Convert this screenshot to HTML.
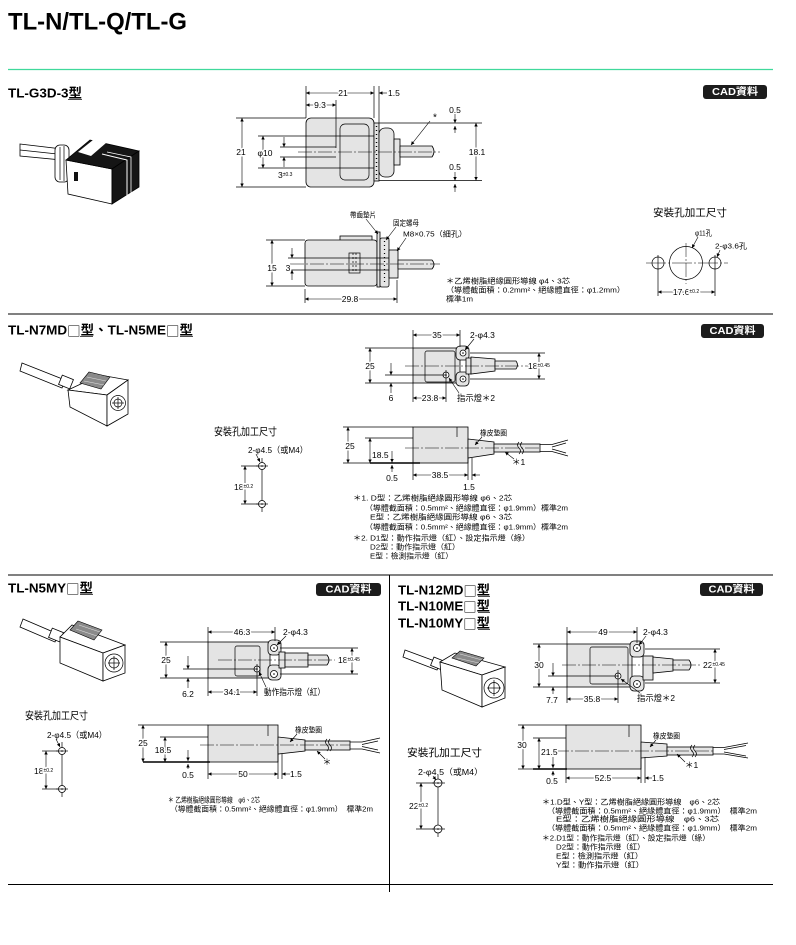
<!DOCTYPE html>
<html><head><meta charset="utf-8">
<style>
html,body{margin:0;padding:0;background:#fff;width:796px;height:945px;overflow:hidden}
svg{display:block}
text{font-family:"Liberation Sans","Noto Sans CJK TC",sans-serif;font-size:8.5px;dominant-baseline:central;fill:#000}
.m{text-anchor:middle}
.h{stroke:#fff;stroke-width:3px;paint-order:stroke;stroke-linejoin:round}
.n{font-size:7.5px}
.s{font-size:5px}
.ti{font-weight:bold;font-size:13px}
.sq{font-family:"Noto Sans CJK TC",sans-serif;font-weight:normal}
.l{stroke:#000;stroke-width:.7;fill:none}
.d{stroke:#000;stroke-width:.6;fill:none;marker-start:url(#a);marker-end:url(#a)}
.e{stroke:#000;stroke-width:.6;fill:none;marker-end:url(#a)}
.c{stroke:#000;stroke-width:.5;fill:none;stroke-dasharray:14 2 2 2}
.b{fill:#e4e4e4;stroke:#000;stroke-width:.8}
.w{fill:#fff;stroke:#000;stroke-width:.8}
.k{fill:#151515;stroke:#000;stroke-width:.8}
.bd{fill:#1c1c1c}
.bt{fill:#fff;font-weight:bold;font-size:10px;text-anchor:middle}
.sec{stroke:#000;stroke-width:1;fill:none}
.pat{fill:#8a8a8a;stroke:#000;stroke-width:.6}
</style></head><body>
<svg width="796" height="945" viewBox="0 0 796 945" xmlns="http://www.w3.org/2000/svg">
<defs><marker id="a" viewBox="0 0 10 10" refX="10" refY="5" markerWidth="5" markerHeight="3.5" markerUnits="userSpaceOnUse" orient="auto-start-reverse"><path d="M0,0L10,5L0,10z"/></marker></defs>

<!-- ===== HEADER / FRAME ===== -->
<text x="8" y="22" style="font-size:24px;font-weight:bold" textLength="179" lengthAdjust="spacingAndGlyphs">TL-N/TL-Q/TL-G</text>
<line x1="8" y1="69.5" x2="773" y2="69.5" stroke="#3fd99b" stroke-width="1.2"/>
<line class="sec" x1="8" y1="314" x2="773" y2="314"/>
<line class="sec" x1="8" y1="575" x2="773" y2="575"/>
<line class="sec" x1="389.5" y1="575" x2="389.5" y2="892"/>
<line class="sec" x1="8" y1="884.5" x2="773" y2="884.5"/>

<!-- titles -->
<text class="ti" x="8" y="93" textLength="74" lengthAdjust="spacingAndGlyphs">TL-G3D-3型</text>
<line class="l" x1="68" y1="99.5" x2="82" y2="99.5"/>
<text class="ti" x="8" y="330" textLength="185" lengthAdjust="spacingAndGlyphs">TL-N7MD<tspan class="sq">□</tspan>型、TL-N5ME<tspan class="sq">□</tspan>型</text>
<line class="l" x1="80" y1="336.5" x2="93" y2="336.5"/><line class="l" x1="180" y1="336.5" x2="193" y2="336.5"/>
<text class="ti" x="8" y="588" textLength="85" lengthAdjust="spacingAndGlyphs">TL-N5MY<tspan class="sq">□</tspan>型</text>
<line class="l" x1="80" y1="594.5" x2="93" y2="594.5"/>
<text class="ti" x="398" y="590" textLength="92" lengthAdjust="spacingAndGlyphs">TL-N12MD<tspan class="sq">□</tspan>型</text>
<text class="ti" x="398" y="606" textLength="92" lengthAdjust="spacingAndGlyphs">TL-N10ME<tspan class="sq">□</tspan>型</text>
<text class="ti" x="398" y="623" textLength="92" lengthAdjust="spacingAndGlyphs">TL-N10MY<tspan class="sq">□</tspan>型</text>
<line class="l" x1="478" y1="596.5" x2="490" y2="596.5"/><line class="l" x1="478" y1="612.5" x2="490" y2="612.5"/><line class="l" x1="478" y1="629.5" x2="490" y2="629.5"/>

<!-- CAD badges -->
<rect class="bd" x="703" y="85" width="64" height="14" rx="3"/><text class="bt" x="735" y="92.3" textLength="46" lengthAdjust="spacingAndGlyphs">CAD資料</text>
<rect class="bd" x="701" y="324" width="63" height="14" rx="3"/><text class="bt" x="732.5" y="331.3" textLength="46" lengthAdjust="spacingAndGlyphs">CAD資料</text>
<rect class="bd" x="316" y="583" width="65" height="13" rx="3"/><text class="bt" x="348.5" y="589.8" textLength="46" lengthAdjust="spacingAndGlyphs">CAD資料</text>
<rect class="bd" x="700" y="583" width="63" height="13" rx="3"/><text class="bt" x="731.5" y="589.8" textLength="46" lengthAdjust="spacingAndGlyphs">CAD資料</text>

<!-- ===== PHOTOS ===== -->
<!-- photo 1 -->
<polygon class="w" points="20,144 62,149 62,160 20,156"/>
<line class="l" x1="20" y1="150" x2="62" y2="154.5"/>
<rect class="w" x="55" y="145" width="14" height="37" rx="5"/>
<line class="l" x1="60" y1="147" x2="60" y2="180"/><line class="l" x1="64" y1="146" x2="64" y2="181"/>
<polygon class="w" points="66,160 112,169 112,204 68,194"/>
<polygon class="k" points="66,160 90,140 139,151 112,169"/>
<polygon fill="#fff" points="78,152 93,140 106,143 91,156"/>
<polygon class="k" points="112,169 139,151 139,187 112,204"/>
<polyline points="102,154 127,160 127,197" fill="none" stroke="#fff" stroke-width="1"/>
<polyline points="107,152 131,157 131,194" fill="none" stroke="#fff" stroke-width=".8"/>
<rect x="74" y="172" width="4" height="9" fill="#111"/>

<!-- photo 2 -->
<polygon class="w" points="22,363 65,380 62,388 20,371"/>
<rect class="w" x="60" y="377" width="12" height="10" transform="rotate(22 66 382)"/>
<polygon class="w" points="68,390 100,375 128,380 107,395"/>
<polygon class="w" points="68,390 107,395 107,426 70,407"/>
<polygon class="w" points="107,395 128,380 128,414 107,426"/>
<polygon class="pat" points="80,383 89,372 110,377 101,389"/>
<path d="M84,381 L104,385 M87,377 L106,381" stroke="#ddd" stroke-width=".6"/>
<circle class="l" cx="118" cy="403" r="7.5"/><circle class="l" cx="118" cy="403" r="4"/>
<line class="l" x1="112" y1="403" x2="124" y2="403"/><line class="l" x1="118" y1="397" x2="118" y2="409"/>

<!-- photo 3 -->
<polygon class="w" points="23,619 58,634 55,642 20,627"/>
<rect class="w" x="50" y="630" width="12" height="10" transform="rotate(22 56 635)"/>
<polygon class="w" points="60,637 72,625 125,645 103,653"/>
<polygon class="w" points="60,637 103,653 103,681 60,663"/>
<polygon class="w" points="103,653 125,645 125,673 103,681"/>
<polygon class="pat" points="70,630 78,621 102,630 94,640"/>
<path d="M76,629 L97,636 M79,625 L100,632" stroke="#ddd" stroke-width=".6"/>
<circle class="l" cx="114" cy="663" r="9"/><circle class="l" cx="114" cy="663" r="5"/>
<line class="l" x1="108" y1="663" x2="120" y2="663"/><line class="l" x1="114" y1="656" x2="114" y2="670"/>

<!-- photo 4 -->
<polygon class="w" points="405,650 440,663 437,670 403,657"/>
<rect class="w" x="432" y="659" width="12" height="9" transform="rotate(22 438 663)"/>
<polygon class="w" points="440,662 455,653 505,667 482,675"/>
<polygon class="w" points="440,662 482,675 482,707 442,690"/>
<polygon class="w" points="482,675 505,667 505,698 482,707"/>
<polygon class="pat" points="452,658 460,651 484,658 476,666"/>
<path d="M457,658 L479,663 M460,654 L482,660" stroke="#ddd" stroke-width=".6"/>
<circle class="l" cx="494" cy="688" r="10"/><circle class="l" cx="494" cy="688" r="5.5"/>
<line class="l" x1="487" y1="688" x2="501" y2="688"/><line class="l" x1="494" y1="680" x2="494" y2="696"/>

<!-- ===== SECTION 1 : TL-G3D-3 ===== -->
<rect class="b" x="306" y="118" width="68" height="69" rx="5"/>
<rect x="340" y="124" width="29" height="56" rx="5" class="l"/>
<rect class="b" x="374" y="123" width="5" height="58"/>
<line x1="376.5" y1="126" x2="376.5" y2="179" stroke="#000" stroke-width="1.4" stroke-dasharray="1 3"/>
<rect class="b" x="379" y="128" width="15" height="49" rx="6"/>
<rect class="b" x="394" y="139" width="6" height="26"/>
<path class="b" d="M400,146 H432 Q436,151.5 432,157 H400 Z"/>
<line class="l" x1="306" y1="86" x2="306" y2="118"/><line class="l" x1="374" y1="86" x2="374" y2="118"/>
<line class="l" x1="379" y1="86" x2="379" y2="123"/><line class="l" x1="336" y1="100" x2="336" y2="148"/>
<line class="l" x1="236" y1="118" x2="306" y2="118"/><line class="l" x1="236" y1="187" x2="306" y2="187"/>
<line class="l" x1="258" y1="136" x2="374" y2="136"/><line class="l" x1="258" y1="168" x2="374" y2="168"/>
<line class="l" x1="280" y1="147" x2="336" y2="147"/><line class="l" x1="280" y1="157" x2="336" y2="157"/>
<line class="c" x1="298" y1="152" x2="440" y2="152"/>
<line class="l" x1="379" y1="123" x2="482" y2="123"/><line class="l" x1="379" y1="180.5" x2="482" y2="180.5"/>
<line class="d" x1="306" y1="93" x2="374" y2="93"/>
<line class="e" x1="387" y1="93" x2="379" y2="93"/>
<line class="d" x1="306" y1="105" x2="336" y2="105"/>
<line class="d" x1="242" y1="118" x2="242" y2="187"/>
<line class="d" x1="263" y1="136" x2="263" y2="168"/>
<line class="e" x1="284" y1="137" x2="284" y2="147"/><line class="e" x1="284" y1="167" x2="284" y2="157"/>
<line class="d" x1="476" y1="123" x2="476" y2="180.5"/>
<line class="e" x1="455" y1="114" x2="455" y2="123"/><line class="e" x1="455" y1="133" x2="455" y2="126"/>
<line class="e" x1="455" y1="172" x2="455" y2="180.5"/><line class="e" x1="455" y1="192" x2="455" y2="184"/>
<line class="e" x1="430" y1="121" x2="411" y2="145"/>
<text class="m h" x="343" y="93">21</text>
<text x="388" y="93">1.5</text>
<text class="m h" x="320" y="105">9.3</text>
<text class="m h" x="241" y="152">21</text>
<text class="m h" x="265" y="153">φ10</text>
<text x="278" y="175">3<tspan class="s">±0.3</tspan></text>
<text class="m h" x="477" y="152">18.1</text>
<text class="m" x="455" y="110">0.5</text>
<text class="m" x="455" y="167">0.5</text>
<text class="m" x="435" y="118" style="font-size:10px">*</text>

<rect class="b" x="340" y="236" width="32" height="5"/>
<rect class="b" x="305" y="240" width="72" height="46" rx="3"/>
<rect class="l" x="349" y="253" width="11" height="20"/>
<line class="l" x1="353" y1="253" x2="353" y2="273" stroke-dasharray="2 2"/><line class="l" x1="356" y1="253" x2="356" y2="273" stroke-dasharray="2 2"/>
<rect class="b" x="377" y="232" width="3" height="55"/>
<rect class="b" x="380" y="238" width="9" height="49" rx="2"/>
<line x1="384.5" y1="241" x2="384.5" y2="285" stroke="#000" stroke-width="1.2" stroke-dasharray="1 3"/>
<rect class="b" x="389" y="250" width="9" height="28"/>
<path class="b" d="M398,260 H432 Q436,264.5 432,269 H398 Z"/>
<line class="l" x1="266" y1="240" x2="305" y2="240"/><line class="l" x1="266" y1="286" x2="305" y2="286"/>
<line class="l" x1="288" y1="258" x2="389" y2="258"/><line class="l" x1="288" y1="270" x2="389" y2="270"/>
<line class="c" x1="290" y1="264" x2="440" y2="264"/>
<line class="d" x1="272" y1="240" x2="272" y2="286"/>
<line class="e" x1="292" y1="248" x2="292" y2="258"/><line class="e" x1="292" y1="280" x2="292" y2="270"/>
<line class="l" x1="305" y1="289" x2="305" y2="303"/><line class="l" x1="397" y1="280" x2="397" y2="303"/>
<line class="d" x1="305" y1="299" x2="397" y2="299"/>
<line class="e" x1="366" y1="219" x2="378" y2="234"/>
<line class="e" x1="396" y1="227" x2="386" y2="240"/>
<line class="e" x1="406" y1="238" x2="397" y2="251"/>
<text class="m h" x="272" y="268">15</text>
<text class="m h" x="288" y="268">3</text>
<text class="m h" x="350" y="299">29.8</text>
<text class="n" x="350" y="215" textLength="26" lengthAdjust="spacingAndGlyphs">帶齒墊片</text>
<text class="n" x="393" y="223" textLength="26" lengthAdjust="spacingAndGlyphs">固定螺母</text>
<text class="n" x="403" y="234" textLength="64" lengthAdjust="spacingAndGlyphs">M8×0.75（細孔）</text>
<text class="n" x="446" y="281" textLength="124" lengthAdjust="spacingAndGlyphs">＊乙烯樹脂絕緣圓形導線 φ4、3芯</text>
<text class="n" x="446" y="290" textLength="179" lengthAdjust="spacingAndGlyphs">（導體截面積：0.2mm²、絕緣體直徑：φ1.2mm）</text>
<text class="n" x="446" y="299" textLength="27" lengthAdjust="spacingAndGlyphs">標準1m</text>

<text x="653" y="213" style="font-size:10.5px" textLength="74" lengthAdjust="spacingAndGlyphs">安裝孔加工尺寸</text>
<circle class="l" cx="686" cy="263" r="16.5"/>
<circle class="l" cx="658" cy="263" r="6"/><circle class="l" cx="715" cy="263" r="6"/>
<line class="c" x1="646" y1="263" x2="728" y2="263" style="stroke-dasharray:20 2 2 2"/>
<line class="c" x1="686" y1="243" x2="686" y2="284"/>
<line class="l" x1="658" y1="255" x2="658" y2="296"/><line class="l" x1="715" y1="255" x2="715" y2="296"/>
<line class="d" x1="658" y1="292" x2="715" y2="292"/>
<line class="e" x1="698" y1="237" x2="692" y2="248"/>
<line class="e" x1="720" y1="250" x2="717" y2="257"/>
<text class="m h" x="686" y="292">17.6<tspan class="s">±0.2</tspan></text>
<text class="n" x="695" y="233" textLength="17" lengthAdjust="spacingAndGlyphs">φ11孔</text>
<text class="n" x="715" y="246" textLength="32" lengthAdjust="spacingAndGlyphs">2-φ3.6孔</text>

<!-- ===== SECTION 2 : TL-N7MD ===== -->
<rect class="b" x="413" y="348" width="47" height="35"/>
<rect class="b" x="456" y="346" width="13" height="14" rx="4"/>
<rect class="b" x="456" y="372" width="13" height="14" rx="4"/>
<rect class="b" x="466" y="358" width="5" height="16"/>
<polygon class="b" points="471,357 495,359 495,371 471,374"/>
<path class="b" d="M495,361 H516 Q519,365 516,369 H495 Z"/>
<rect class="l" x="425" y="351" width="30" height="31" rx="2"/>
<circle class="w" cx="463" cy="353" r="3"/><circle cx="463" cy="353" r=".8"/>
<circle class="w" cx="463" cy="379" r="3"/><circle cx="463" cy="379" r=".8"/>
<circle class="w" cx="446" cy="375" r="3"/><circle cx="446" cy="375" r=".8"/>
<line class="c" x1="405" y1="366" x2="530" y2="366"/>
<line class="l" x1="385" y1="375" x2="446" y2="375"/>
<line class="l" x1="413" y1="330" x2="413" y2="348"/><line class="l" x1="460" y1="330" x2="460" y2="347"/>
<line class="d" x1="413" y1="335" x2="460" y2="335"/>
<line class="l" x1="365" y1="348" x2="413" y2="348"/><line class="l" x1="365" y1="383" x2="413" y2="383"/>
<line class="d" x1="370" y1="348" x2="370" y2="383"/>
<line class="e" x1="391" y1="363" x2="391" y2="375"/><line class="e" x1="391" y1="393" x2="391" y2="383"/>
<line class="l" x1="413" y1="383" x2="413" y2="402"/><line class="l" x1="446" y1="370" x2="446" y2="402"/>
<line class="d" x1="413" y1="398" x2="446" y2="398"/>
<line class="e" x1="474" y1="339" x2="465" y2="350"/>
<line class="e" x1="459" y1="393" x2="449" y2="378"/>
<line class="l" x1="470" y1="353" x2="545" y2="353"/><line class="l" x1="470" y1="379" x2="545" y2="379"/>
<line class="d" x1="539" y1="353" x2="539" y2="379"/>
<text class="m h" x="437" y="335">35</text>
<text x="470" y="335">2-φ4.3</text>
<text class="m h" x="370" y="366">25</text>
<text class="m" x="391" y="398">6</text>
<text class="m h" x="430" y="398">23.8</text>
<text x="457" y="398" textLength="38" lengthAdjust="spacingAndGlyphs">指示燈＊2</text>
<text class="h" x="528" y="366">18<tspan class="s">±0.45</tspan></text>
<rect class="b" x="413" y="427" width="55" height="36"/>
<line class="l" x1="457" y1="427" x2="457" y2="437"/>
<polygon class="b" points="468,439 494,442 494,454 468,458"/>
<rect class="b" x="494" y="444" width="46" height="8"/>
<path class="l" d="M519,442 q-3,3 0,6 q3,3 0,6 M522,442 q-3,3 0,6 q3,3 0,6"/>
<path class="l" d="M540,444.5 L552,444.5 L568,440 M540,451.5 L552,451.5 L568,456 M552,447 L566,443 M552,449 L566,453"/>
<line class="c" x1="405" y1="448" x2="540" y2="448"/>
<line x1="370" y1="463" x2="420" y2="463" stroke="#000" stroke-width="1.4"/>
<line class="l" x1="343" y1="427" x2="413" y2="427"/>
<line class="l" x1="343" y1="463" x2="370" y2="463"/>
<line class="d" x1="348" y1="427" x2="348" y2="463"/>
<line class="l" x1="365" y1="438" x2="413" y2="438"/>
<line class="d" x1="370" y1="438" x2="370" y2="463"/>
<line class="e" x1="392" y1="451" x2="392" y2="462.5"/><line class="e" x1="392" y1="472" x2="392" y2="465"/>
<line class="l" x1="413" y1="463" x2="413" y2="480"/><line class="l" x1="468" y1="458" x2="468" y2="480"/><line class="l" x1="472" y1="458" x2="472" y2="480"/>
<line class="d" x1="413" y1="475" x2="468" y2="475"/>
<line class="e" x1="480" y1="475" x2="472" y2="475"/>
<line class="e" x1="482" y1="437" x2="475" y2="445"/>
<line class="e" x1="514" y1="459" x2="505" y2="452"/>
<text class="m h" x="350" y="446">25</text>
<text class="h" x="372" y="455">18.5</text>
<text class="m" x="392" y="478">0.5</text>
<text class="m h" x="440" y="475">38.5</text>
<text class="m" x="469" y="487">1.5</text>
<text class="n" x="480" y="433" textLength="27" lengthAdjust="spacingAndGlyphs">橡皮墊圈</text>
<text x="512" y="462">＊1</text>
<text x="214" y="432" style="font-size:10.5px" textLength="63" lengthAdjust="spacingAndGlyphs">安裝孔加工尺寸</text>
<text x="248" y="450" textLength="60" lengthAdjust="spacingAndGlyphs">2-φ4.5（或M4）</text>
<line class="l" x1="262" y1="458" x2="262" y2="512"/>
<circle class="w" cx="262" cy="466" r="3.5"/><circle cx="262" cy="466" r=".8"/>
<circle class="w" cx="262" cy="504" r="3.5"/><circle cx="262" cy="504" r=".8"/>
<line class="l" x1="256" y1="466" x2="268" y2="466"/><line class="l" x1="256" y1="504" x2="268" y2="504"/>
<line class="l" x1="241" y1="466" x2="258" y2="466"/><line class="l" x1="241" y1="504" x2="258" y2="504"/>
<line class="d" x1="245" y1="466" x2="245" y2="504"/>
<line class="e" x1="256" y1="454" x2="260" y2="462"/>
<text class="h" x="234" y="487">18<tspan class="s">±0.2</tspan></text>
<text class="n" x="353" y="498" textLength="159" lengthAdjust="spacingAndGlyphs">＊1. D型：乙烯樹脂絕緣圓形導線 φ6、2芯</text>
<text class="n" x="365" y="508" textLength="203" lengthAdjust="spacingAndGlyphs">（導體截面積：0.5mm²、絕緣體直徑：φ1.9mm）標準2m</text>
<text class="n" x="370" y="517" textLength="142" lengthAdjust="spacingAndGlyphs">E型：乙烯樹脂絕緣圓形導線 φ6、3芯</text>
<text class="n" x="365" y="527" textLength="203" lengthAdjust="spacingAndGlyphs">（導體截面積：0.5mm²、絕緣體直徑：φ1.9mm）標準2m</text>
<text class="n" x="353" y="538" textLength="177" lengthAdjust="spacingAndGlyphs">＊2. D1型：動作指示燈（紅）、設定指示燈（綠）</text>
<text class="n" x="370" y="547" textLength="90" lengthAdjust="spacingAndGlyphs">D2型：動作指示燈（紅）</text>
<text class="n" x="370" y="556" textLength="83" lengthAdjust="spacingAndGlyphs">E型：檢測指示燈（紅）</text>

<!-- ===== SECTION 3 : TL-N5MY ===== -->
<rect class="b" x="208" y="642" width="62" height="36"/>
<rect class="b" x="268" y="640" width="13" height="15" rx="4"/>
<rect class="b" x="268" y="665" width="13" height="15" rx="4"/>
<rect class="b" x="279" y="652" width="6" height="16"/>
<rect class="b" x="285" y="653" width="23" height="14"/>
<path class="b" d="M308,655 H327 Q331,660 327,665 H308 Z"/>
<rect class="l" x="235" y="646" width="25" height="30" rx="2"/>
<circle class="w" cx="274" cy="648" r="3.5"/><circle cx="274" cy="648" r=".8"/>
<circle class="w" cx="274" cy="674" r="3.5"/><circle cx="274" cy="674" r=".8"/>
<circle class="w" cx="257" cy="669" r="3"/><circle cx="257" cy="669" r=".8"/>
<line class="c" x1="218" y1="660" x2="335" y2="660"/>
<line class="l" x1="183" y1="669" x2="257" y2="669"/>
<line class="l" x1="208" y1="627" x2="208" y2="642"/><line class="l" x1="275" y1="627" x2="275" y2="641"/>
<line class="d" x1="208" y1="632" x2="275" y2="632"/>
<line class="l" x1="160" y1="642" x2="208" y2="642"/><line class="l" x1="160" y1="678" x2="208" y2="678"/>
<line class="d" x1="166" y1="642" x2="166" y2="678"/>
<line class="e" x1="188" y1="656" x2="188" y2="669"/><line class="e" x1="188" y1="688" x2="188" y2="678"/>
<line class="l" x1="208" y1="678" x2="208" y2="696"/><line class="l" x1="257" y1="664" x2="257" y2="696"/>
<line class="d" x1="208" y1="692" x2="257" y2="692"/>
<line class="e" x1="286" y1="636" x2="277" y2="645"/>
<line class="e" x1="266" y1="687" x2="259" y2="672"/>
<line class="l" x1="280" y1="648" x2="358" y2="648"/><line class="l" x1="280" y1="674" x2="358" y2="674"/>
<line class="d" x1="352" y1="648" x2="352" y2="674"/>
<text class="m h" x="242" y="632">46.3</text>
<text x="283" y="632">2-φ4.3</text>
<text class="m h" x="166" y="660">25</text>
<text class="m" x="188" y="694">6.2</text>
<text class="m h" x="232" y="692">34.1</text>
<text x="264" y="692" textLength="61" lengthAdjust="spacingAndGlyphs">動作指示燈（紅）</text>
<text class="h" x="338" y="660">18<tspan class="s">±0.45</tspan></text>
<rect class="b" x="208" y="725" width="70" height="37"/>
<line class="l" x1="268" y1="725" x2="268" y2="736"/>
<polygon class="b" points="278,737 305,740 305,751 278,754"/>
<rect class="b" x="305" y="741" width="45" height="9"/>
<path class="l" d="M327,739 q-3,3 0,6 q3,3 0,6 M330,739 q-3,3 0,6 q3,3 0,6"/>
<path class="l" d="M350,742 L362,742 L380,738 M350,749 L362,749 L380,753 M362,744.5 L378,741 M362,746.5 L378,750"/>
<line class="c" x1="200" y1="745" x2="350" y2="745"/>
<line x1="143" y1="762" x2="210" y2="762" stroke="#000" stroke-width="1.4"/>
<line class="l" x1="138" y1="725" x2="208" y2="725"/>
<line class="d" x1="143" y1="725" x2="143" y2="762"/>
<line class="l" x1="160" y1="737" x2="208" y2="737"/>
<line class="d" x1="165" y1="737" x2="165" y2="762"/>
<line class="e" x1="188" y1="750" x2="188" y2="761"/><line class="e" x1="188" y1="769" x2="188" y2="764"/>
<line class="l" x1="208" y1="762" x2="208" y2="779"/><line class="l" x1="278" y1="754" x2="278" y2="779"/><line class="l" x1="282" y1="754" x2="282" y2="779"/>
<line class="d" x1="208" y1="774" x2="278" y2="774"/>
<line class="e" x1="290" y1="774" x2="282" y2="774"/>
<line class="e" x1="297" y1="734" x2="290" y2="742"/>
<line class="e" x1="325" y1="759" x2="317" y2="751"/>
<text class="m h" x="143" y="743">25</text>
<text class="m h" x="163" y="750">18.5</text>
<text class="m" x="188" y="775">0.5</text>
<text class="m h" x="243" y="774">50</text>
<text x="290" y="774">1.5</text>
<text class="n" x="295" y="730" textLength="27" lengthAdjust="spacingAndGlyphs">橡皮墊圈</text>
<text class="m" x="327" y="762">＊</text>
<text class="n" x="168" y="800" textLength="92" lengthAdjust="spacingAndGlyphs">＊ 乙烯樹脂絕緣圓形導線　φ6、2芯</text>
<text class="n" x="170" y="809" textLength="203" lengthAdjust="spacingAndGlyphs">（導體截面積：0.5mm²、絕緣體直徑：φ1.9mm）　標準2m</text>
<text x="25" y="716" style="font-size:10.5px" textLength="63" lengthAdjust="spacingAndGlyphs">安裝孔加工尺寸</text>
<text x="47" y="735" textLength="60" lengthAdjust="spacingAndGlyphs">2-φ4.5（或M4）</text>
<line class="l" x1="62" y1="742" x2="62" y2="797"/>
<circle class="w" cx="62" cy="751" r="3.5"/><circle cx="62" cy="751" r=".8"/>
<circle class="w" cx="62" cy="789" r="3.5"/><circle cx="62" cy="789" r=".8"/>
<line class="l" x1="56" y1="751" x2="68" y2="751"/><line class="l" x1="56" y1="789" x2="68" y2="789"/>
<line class="l" x1="42" y1="751" x2="58" y2="751"/><line class="l" x1="42" y1="789" x2="58" y2="789"/>
<line class="d" x1="46" y1="751" x2="46" y2="789"/>
<line class="e" x1="56" y1="739" x2="60" y2="747"/>
<text class="h" x="34" y="771">18<tspan class="s">±0.2</tspan></text>

<!-- ===== SECTION 4 : TL-N12MD ===== -->
<rect class="b" x="567" y="644" width="65" height="43"/>
<rect class="b" x="630" y="641" width="14" height="16" rx="4"/>
<rect class="b" x="630" y="676" width="14" height="15" rx="4"/>
<rect class="b" x="643" y="656" width="10" height="24"/>
<polygon class="b" points="653,657 673,659 673,671 653,673"/>
<path class="b" d="M673,660 H689 Q693,665 689,670 H673 Z"/>
<rect class="l" x="590" y="647" width="38" height="37" rx="2"/>
<circle class="w" cx="637" cy="648" r="3.5"/><circle cx="637" cy="648" r=".8"/>
<circle class="w" cx="637" cy="684" r="3.5"/><circle cx="637" cy="684" r=".8"/>
<circle class="w" cx="618" cy="676" r="3"/><circle cx="618" cy="676" r=".8"/>
<line class="c" x1="562" y1="665" x2="700" y2="665"/>
<line class="l" x1="548" y1="676" x2="618" y2="676"/>
<line class="l" x1="567" y1="627" x2="567" y2="644"/><line class="l" x1="637" y1="627" x2="637" y2="643"/>
<line class="d" x1="567" y1="632" x2="637" y2="632"/>
<line class="l" x1="533" y1="644" x2="567" y2="644"/><line class="l" x1="533" y1="687" x2="567" y2="687"/>
<line class="d" x1="539" y1="644" x2="539" y2="687"/>
<line class="e" x1="553" y1="663" x2="553" y2="676"/><line class="e" x1="553" y1="694" x2="553" y2="687"/>
<line class="l" x1="567" y1="687" x2="567" y2="703"/><line class="l" x1="618" y1="670" x2="618" y2="703"/>
<line class="d" x1="567" y1="699" x2="618" y2="699"/>
<line class="e" x1="646" y1="636" x2="639" y2="645"/>
<line class="e" x1="640" y1="693" x2="621" y2="679"/>
<line class="l" x1="645" y1="649" x2="720" y2="649"/><line class="l" x1="645" y1="683" x2="720" y2="683"/>
<line class="d" x1="715" y1="649" x2="715" y2="683"/>
<text class="m h" x="603" y="632">49</text>
<text x="643" y="632">2-φ4.3</text>
<text class="m h" x="539" y="665">30</text>
<text class="m" x="552" y="700">7.7</text>
<text class="m h" x="592" y="699">35.8</text>
<text x="637" y="698" textLength="38" lengthAdjust="spacingAndGlyphs">指示燈＊2</text>
<text class="h" x="703" y="665">22<tspan class="s">±0.45</tspan></text>
<rect class="b" x="566" y="725" width="75" height="44"/>
<line class="l" x1="629" y1="725" x2="629" y2="737"/>
<polygon class="b" points="641,742 667,744 667,756 641,758"/>
<rect class="b" x="667" y="747" width="46" height="8"/>
<path class="l" d="M692,745 q-3,3 0,6 q3,3 0,6 M695,745 q-3,3 0,6 q3,3 0,6"/>
<path class="l" d="M713,747.5 L724,747.5 L748,743 M713,754 L724,754 L748,758 M724,749.5 L746,745.5 M724,752 L746,756"/>
<line class="c" x1="555" y1="751" x2="713" y2="751"/>
<line x1="533" y1="769" x2="567" y2="769" stroke="#000" stroke-width="1.4"/>
<line class="l" x1="518" y1="725" x2="566" y2="725"/>
<line class="l" x1="518" y1="769" x2="533" y2="769"/>
<line class="d" x1="523" y1="725" x2="523" y2="769"/>
<line class="l" x1="533" y1="738" x2="566" y2="738"/>
<line class="d" x1="539" y1="738" x2="539" y2="769"/>
<line class="e" x1="553" y1="757" x2="553" y2="768"/><line class="e" x1="553" y1="776" x2="553" y2="771"/>
<line class="l" x1="566" y1="769" x2="566" y2="783"/><line class="l" x1="641" y1="758" x2="641" y2="783"/><line class="l" x1="645" y1="757" x2="645" y2="783"/>
<line class="d" x1="566" y1="778" x2="641" y2="778"/>
<line class="e" x1="652" y1="778" x2="645" y2="778"/>
<line class="e" x1="656" y1="740" x2="650" y2="747"/>
<line class="e" x1="685" y1="762" x2="677" y2="754"/>
<text class="m h" x="522" y="745">30</text>
<text class="h" x="541" y="752">21.5</text>
<text class="m" x="552" y="781">0.5</text>
<text class="m h" x="603" y="778">52.5</text>
<text x="652" y="778">1.5</text>
<text class="n" x="653" y="736" textLength="27" lengthAdjust="spacingAndGlyphs">橡皮墊圈</text>
<text x="685" y="765">＊1</text>
<text x="407" y="753" style="font-size:10.5px" textLength="75" lengthAdjust="spacingAndGlyphs">安裝孔加工尺寸</text>
<text x="418" y="772" textLength="65" lengthAdjust="spacingAndGlyphs">2-φ4.5（或M4）</text>
<line class="l" x1="438" y1="775" x2="438" y2="837"/>
<circle class="w" cx="438" cy="783" r="4"/><circle cx="438" cy="783" r=".8"/>
<circle class="w" cx="438" cy="829" r="4"/><circle cx="438" cy="829" r=".8"/>
<line class="l" x1="432" y1="783" x2="445" y2="783"/><line class="l" x1="432" y1="829" x2="445" y2="829"/>
<line class="l" x1="416" y1="783" x2="434" y2="783"/><line class="l" x1="416" y1="829" x2="434" y2="829"/>
<line class="d" x1="421" y1="783" x2="421" y2="829"/>
<line class="e" x1="433" y1="776" x2="436" y2="780"/>
<text class="h" x="409" y="806">22<tspan class="s">±0.2</tspan></text>
<text class="n" x="542" y="802" textLength="178" lengthAdjust="spacingAndGlyphs">＊1.D型、Y型：乙烯樹脂絕緣圓形導線　φ6、2芯</text>
<text class="n" x="547" y="811" textLength="210" lengthAdjust="spacingAndGlyphs">（導體截面積：0.5mm²、絕緣體直徑：φ1.9mm）　標準2m</text>
<text class="n" x="556" y="819" textLength="163" lengthAdjust="spacingAndGlyphs">E型：乙烯樹脂絕緣圓形導線　φ6、3芯</text>
<text class="n" x="547" y="828" textLength="210" lengthAdjust="spacingAndGlyphs">（導體截面積：0.5mm²、絕緣體直徑：φ1.9mm）　標準2m</text>
<text class="n" x="542" y="838" textLength="168" lengthAdjust="spacingAndGlyphs">＊2.D1型：動作指示燈（紅）、設定指示燈（綠）</text>
<text class="n" x="556" y="847" textLength="89" lengthAdjust="spacingAndGlyphs">D2型：動作指示燈（紅）</text>
<text class="n" x="556" y="856" textLength="87" lengthAdjust="spacingAndGlyphs">E型：檢測指示燈（紅）</text>
<text class="n" x="556" y="865" textLength="88" lengthAdjust="spacingAndGlyphs">Y型：動作指示燈（紅）</text>
</svg>
</body></html>
